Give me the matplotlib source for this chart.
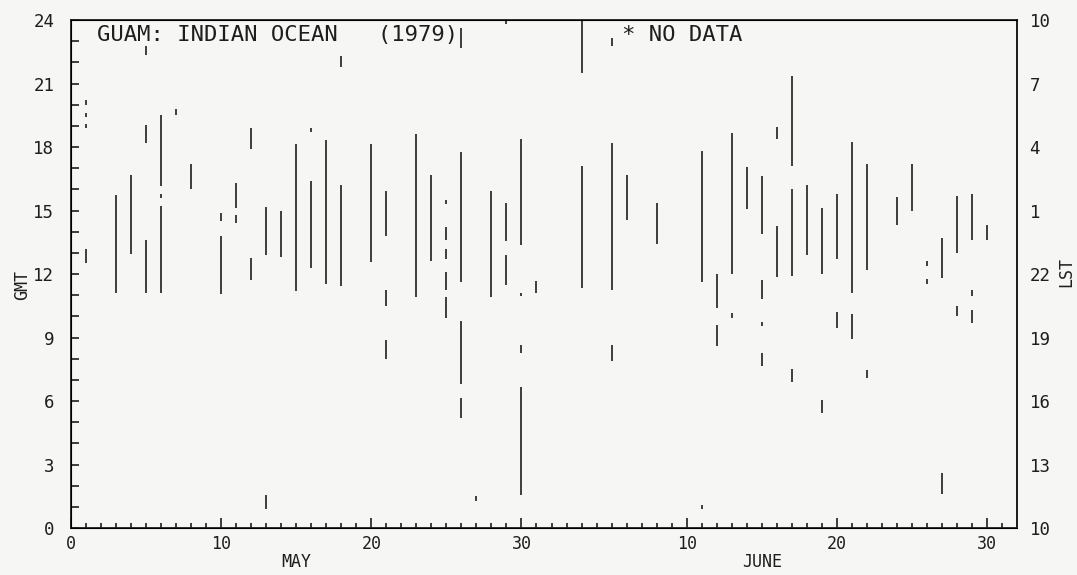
"""
Guam observation hours, Indian Ocean, May-June 1979
vertical bars = hours (GMT) with data on each day
"""
import matplotlib
matplotlib.use('Agg')
import matplotlib.pyplot as plt

# day index: May 1 = 1 ... May 31 = 31, June 1 = 32 ... June 30 = 61
seg_day = [1, 1, 1, 1,
           3, 4,
           5, 5, 5,
           6, 6, 6,
           7, 8,
           10, 10,
           11, 11,
           12, 12,
           13, 13,
           14, 15,
           16, 16,
           17,
           18, 18,
           20,
           21, 21, 21,
           23, 24,
           25, 25, 25, 25, 25,
           26, 26, 26, 26,
           27, 28,
           29, 29, 29,
           30, 30, 30, 30,
           31,
           34, 34,
           36, 36, 36,
           37, 39,
           42, 42,
           43, 43,
           44, 44,
           45,
           46, 46, 46, 46,
           47, 47,
           48, 48, 48,
           49,
           50, 50,
           51, 51,
           52, 52,
           53, 53,
           55, 56,
           57, 57,
           58, 58,
           59, 59,
           60, 60, 60,
           61]
seg_lo = [12.5, 18.9, 19.4, 20.0,
          11.1, 12.95,
          22.35, 18.2, 11.1,
          16.15, 15.6, 11.1,
          19.5, 16.0,
          14.5, 11.05,
          15.1, 14.4,
          17.9, 11.7,
          12.9, 0.9,
          12.8, 11.2,
          18.7, 12.3,
          11.55,
          21.8, 11.45,
          12.55,
          13.8, 10.5, 8.0,
          10.9, 12.6,
          15.3, 13.6, 12.7, 11.25, 9.9,
          22.7, 11.6, 6.8, 5.2,
          1.3, 10.9,
          23.8, 13.55, 11.5,
          13.35, 10.95, 8.25, 1.57,
          11.1,
          21.5, 11.35,
          22.75, 11.25, 7.9,
          14.55, 13.4,
          11.6, 0.9,
          10.4, 8.6,
          12.0, 9.9,
          15.05,
          13.9, 10.8, 9.55, 7.65,
          18.4, 11.85,
          17.1, 11.9, 6.9,
          12.9,
          12.0, 5.45,
          12.7, 9.45,
          11.1, 8.95,
          12.2, 7.1,
          14.3, 15.0,
          12.4, 11.55,
          11.8, 1.6,
          13.0, 10.0,
          13.6, 10.95, 9.7,
          13.6]
seg_hi = [13.2, 19.1, 19.6, 20.2,
          15.75, 16.7,
          22.75, 19.05, 13.6,
          19.5, 15.8, 15.2,
          19.8, 17.2,
          14.9, 13.8,
          16.3, 14.8,
          18.9, 12.75,
          15.15, 1.57,
          15.0, 18.15,
          18.9, 16.4,
          18.35,
          22.3, 16.2,
          18.15,
          15.9, 11.25, 8.9,
          18.6, 16.7,
          15.5, 14.2, 13.2, 12.1, 10.9,
          23.6, 17.75, 9.8, 6.15,
          1.5, 15.9,
          24.0, 15.35, 12.9,
          18.4, 11.1, 8.65, 6.65,
          11.65,
          24.0, 17.1,
          23.15, 18.2, 8.65,
          16.7, 15.35,
          17.8, 1.1,
          12.0, 9.6,
          18.65, 10.15,
          17.05,
          16.65, 11.7, 9.75, 8.25,
          18.95, 14.25,
          21.35, 16.0, 7.5,
          16.2,
          15.1, 6.05,
          15.8, 10.2,
          18.25, 10.1,
          17.2, 7.45,
          15.65, 17.2,
          12.6, 11.75,
          13.7, 2.6,
          15.7, 10.5,
          15.8, 11.25, 10.3,
          14.3]

gmt_ticks = [0, 3, 6, 9, 12, 15, 18, 21, 24]
day_ticks = [0, 10, 20, 30, 41, 51, 61]
day_labels = ['0', '10', '20', '30', '10', '20', '30']

ink = '#1e1e1e'
paper = '#f6f6f4'
plt.rcParams['font.family'] = ['DejaVu Sans Mono']

fig = plt.figure(figsize=(10.77, 5.75), dpi=100, facecolor=paper)
ax = fig.add_axes([0.0659, 0.0817, 0.8784, 0.8835])
ax.set_facecolor(paper)

ax.vlines(seg_day, seg_lo, seg_hi, colors=ink, linewidth=1.2)

ax.set_xlim(0, 63)
ax.set_ylim(0, 24)

for s in ax.spines.values():
    s.set_color(ink)
    s.set_linewidth(1.3)

ax.set_xticks(day_ticks)
ax.set_xticklabels(day_labels)
ax.set_xticks(range(1, 63), minor=True)
ax.set_yticks(gmt_ticks)
ax.set_yticks(range(25), minor=True)
ax.tick_params(axis='x', which='major', direction='in', length=7, width=1.2,
               color=ink, labelsize=12, pad=5, labelcolor=ink)
ax.tick_params(axis='x', which='minor', direction='in', length=3.5, width=1.2,
               color=ink)
ax.tick_params(axis='y', which='both', direction='in', length=6, width=1.2,
               color=ink, labelsize=12.5, pad=12, labelcolor=ink)

# right hand axis: local time = GMT + 10
ax2 = ax.twinx()
ax2.set_ylim(0, 24)
ax2.set_yticks(gmt_ticks)
ax2.set_yticklabels([str((h + 10) % 24) for h in gmt_ticks])
ax2.tick_params(axis='y', length=0, labelsize=12.5, pad=9, labelcolor=ink)
ax2.spines['right'].set_color(ink)
ax2.spines['right'].set_linewidth(1.3)

ax.text(0.027, 0.97, 'GUAM: INDIAN OCEAN   (1979)', transform=ax.transAxes,
        fontsize=16, va='center', ha='left', color=ink)
ax.text(0.582, 0.97, '* NO DATA', transform=ax.transAxes,
        fontsize=16, va='center', ha='left', color=ink)

ax.text(15, -0.067, 'MAY', transform=ax.get_xaxis_transform(),
        fontsize=12, ha='center', va='center', color=ink)
ax.text(46, -0.067, 'JUNE', transform=ax.get_xaxis_transform(),
        fontsize=12, ha='center', va='center', color=ink)

fig.text(22 / 1077, 1 - 285 / 575, 'GMT', rotation=90, fontsize=12,
         ha='center', va='center', color=ink)
fig.text(1066 / 1077, 1 - 272 / 575, 'LST', rotation=90, fontsize=12,
         ha='center', va='center', color=ink)

plt.savefig('out.png', dpi=100, facecolor=paper)
